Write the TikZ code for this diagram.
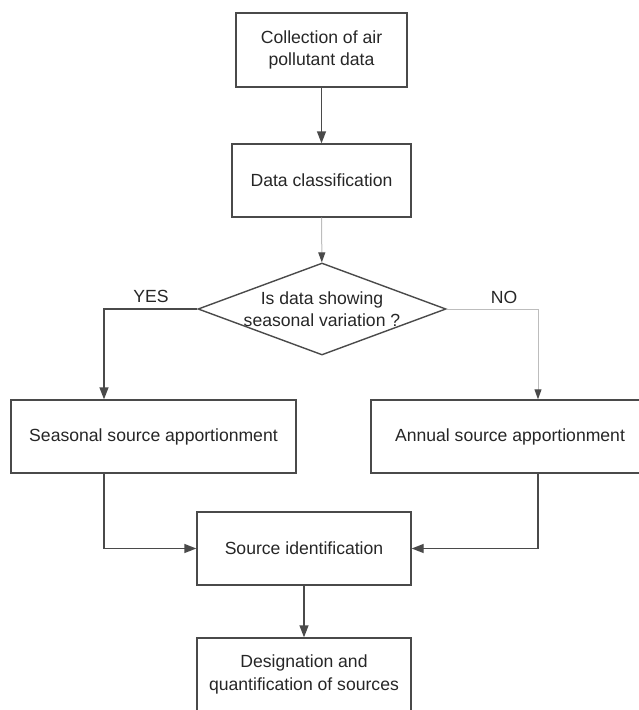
\documentclass[tikz,border=0pt]{standalone}
\usepackage{fontspec}
\setmainfont{Liberation Sans}
\usetikzlibrary{shapes.geometric,arrows.meta}
\definecolor{linegray}{HTML}{4A4A4A}
\definecolor{lightline}{HTML}{BDBDBD}
\definecolor{textgray}{HTML}{262626}
\begin{document}
\begin{tikzpicture}[x=1pt,y=1pt,
  every node/.style={font=\fontsize{17.6}{22.5}\selectfont, text=textgray},
  box/.style={draw=linegray, line width=1.4pt, align=center, inner sep=0pt},
  decision/.style={draw=linegray, diamond, line width=1.4pt, minimum width=248pt, minimum height=92pt, inner sep=0pt},
  flow/.style={draw=linegray, line width=1.4pt, -{Triangle[length=12pt,width=9pt]}},
  faint/.style={draw=lightline, line width=1pt, -{Triangle[length=10pt,width=7pt,color=linegray]}}]
\clip (0,0) rectangle (639,-710);
% Cajas
\node[box, minimum width=171pt, minimum height=74pt] (collect) at (321.5,-50) {Collection of air\\pollutant data};
\node[box, minimum width=179pt, minimum height=73pt] (classify) at (321.5,-180.5) {Data classification};
\node[decision] (season) at (322,-309) {};
\node[align=center] (question) at (season) {Is data showing\\seasonal variation ?};
\node[box, minimum width=285pt, minimum height=73pt] (seasonal) at (153.5,-436.5) {Seasonal source apportionment};
\node[box, minimum width=278pt, minimum height=73pt] (annual) at (510,-436.5) {Annual source apportionment};
\node[box, minimum width=214pt, minimum height=73pt] (source) at (304,-548.5) {Source identification};
\node[box, minimum width=214pt, minimum height=73pt] (design) at (304,-674.5) {Designation and\\quantification of sources};
% Etiquetas
\node (yes) at (151,-296) {YES};
\node (no) at (504,-297) {NO};
% Flechas
\draw[flow] (collect) -- (classify);
\draw[faint] (classify) -- (season);
\draw[flow] (season.west) -| ([xshift=-49.5pt]seasonal.north);
\draw[faint] (season.east) -| ([xshift=28pt]annual.north);
\draw[flow] ([xshift=-49.5pt]seasonal.south) |- (source.west);
\draw[flow] ([xshift=28pt]annual.south) |- (source.east);
\draw[flow] (source) -- (design);
\end{tikzpicture}
\end{document}
